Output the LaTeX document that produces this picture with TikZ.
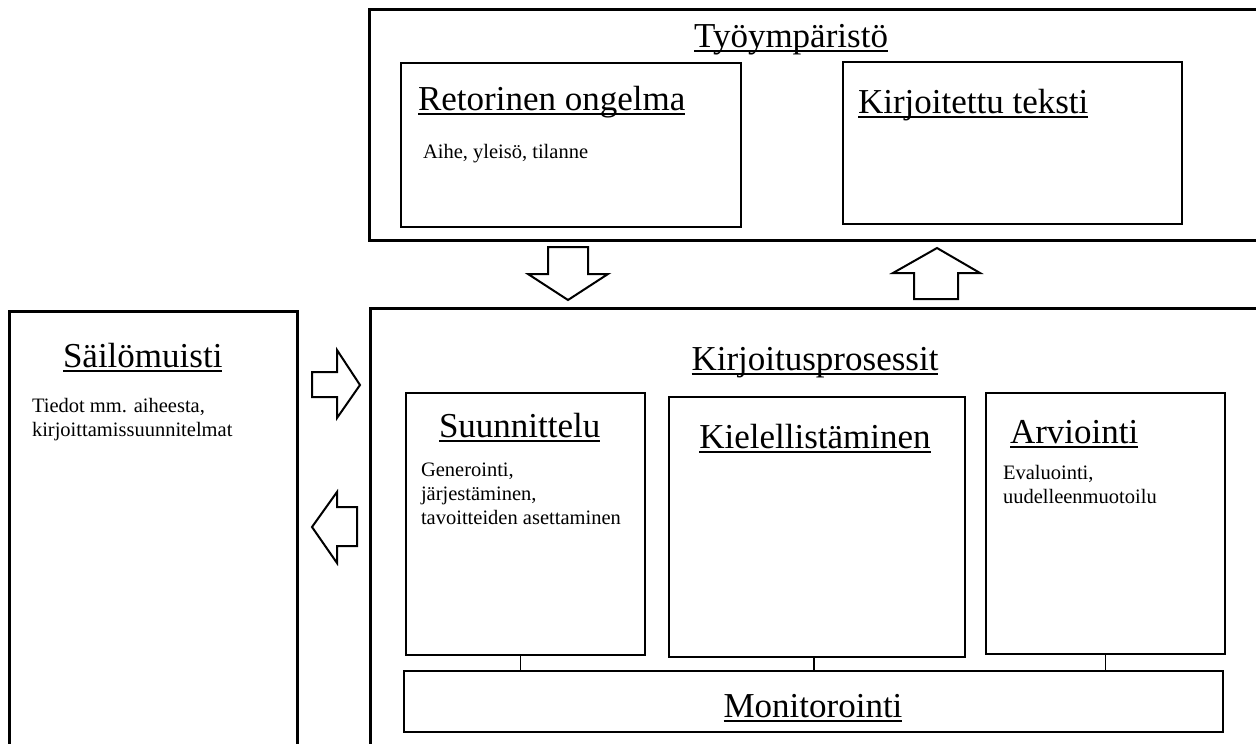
\documentclass[tikz,border=0pt]{standalone}
\usepackage{fontspec}
\setmainfont{Liberation Serif}
\newsavebox\ulbox
\newcommand\ulin[1]{\sbox\ulbox{#1}\rlap{\rule[-0.14em]{\wd\ulbox}{0.05em}}\usebox\ulbox}
\newcommand\hfont{\fontsize{35}{40}\selectfont}
\newcommand\bfont{\fontsize{20.5}{24}\selectfont}
\tikzset{
  bigbox/.style={draw, line width=3pt, inner sep=0pt, outer sep=0pt},
  smallbox/.style={draw, line width=2.6pt, inner sep=0pt, outer sep=0pt},
  hd/.style={inner sep=0pt, outer sep=0pt, font=\hfont},
  body/.style={inner sep=0pt, outer sep=0pt, font=\bfont, align=left},
  blockarrow/.style={draw, line width=2pt, line join=miter, fill=white},
  link/.style={draw, line width=1.8pt}
}
\begin{document}
\begin{tikzpicture}[x=1pt, y=-1pt]
\path[use as bounding box, fill=white] (0,0) rectangle (1256,744);
\clip (0,0) rectangle (1256,744);
% outer boxes
\node[bigbox, minimum width=896pt, minimum height=231pt] (tyo) at (817,124.5) {};
\node[bigbox, minimum width=288pt, minimum height=449pt] (sail) at (153,535.5) {};
\node[bigbox, minimum width=895pt, minimum height=452pt] (kp) at (817.5,534) {};
% top inner boxes
\node[smallbox, minimum width=340pt, minimum height=164pt] (ret) at (571,145) {};
\node[smallbox, minimum width=339pt, minimum height=162pt] (kir) at (1012.5,143) {};
% process boxes
\node[smallbox, minimum width=239pt, minimum height=262pt] (suun) at (525.5,524) {};
\node[smallbox, minimum width=296pt, minimum height=260pt] (kiel) at (817,527) {};
\node[smallbox, minimum width=239pt, minimum height=261pt] (arv) at (1105.5,523.5) {};
\node[smallbox, minimum width=819pt, minimum height=61pt] (mon) at (813.5,701.5) {};
% connectors to Monitorointi
\draw[link] (suun.south) ++(-5,0) coordinate (s1) -- (s1 |- mon.north);
\draw[link] (kiel.south) ++(-3,0) coordinate (s2) -- (s2 |- mon.north);
\draw[link] (arv.south) -- (arv.south |- mon.north);
% block arrows
\draw[blockarrow] (548,247) -- (588,247) -- (588,274) -- (608,274) -- (568,300) -- (528,274) -- (548,274) -- cycle;
\draw[blockarrow] (914,299) -- (958,299) -- (958,273) -- (980,273) -- (937,248) -- (893,273) -- (914,273) -- cycle;
\draw[blockarrow] (312,372) -- (337,372) -- (337,350) -- (360,385) -- (337,418) -- (337,397) -- (312,397) -- cycle;
\draw[blockarrow] (357,507) -- (337,507) -- (337,492) -- (312,527) -- (337,563) -- (337,546) -- (357,546) -- cycle;
% texts (multi-line nodes: base = baseline of last line)
\node[hd, anchor=base] (tyoT) at (791,47) {\ulin{Työympäristö}};
\node[hd, anchor=base west] (retT) at (418,110) {\ulin{Retorinen ongelma}};
\node[body, anchor=base west] (retB) at (423,158) {Aihe, yleisö, tilanne};
\node[hd, anchor=base west] (kirT) at (858,113) {\ulin{Kirjoitettu teksti}};
\node[hd, anchor=base west] (sailT) at (63,367) {\ulin{Säilömuisti}};
\node[body, anchor=base west] (sailB) at (32,436) {Tiedot mm. aiheesta,\\kirjoittamissuunnitelmat};
\node[hd, anchor=base] (kpT) at (815,370) {\ulin{Kirjoitusprosessit}};
\node[hd, anchor=base west] (suunT) at (439,437) {\ulin{Suunnittelu}};
\node[body, anchor=base west] (suunB) at (421,524) {Generointi,\\järjestäminen,\\tavoitteiden asettaminen};
\node[hd, anchor=base] (kielT) at (815,448) {\ulin{Kielellistäminen}};
\node[hd, anchor=base west] (arvT) at (1010,443) {\ulin{Arviointi}};
\node[body, anchor=base west] (arvB) at (1003,503) {Evaluointi,\\uudelleenmuotoilu};
\node[hd, anchor=base] (monT) at (813,717) {\ulin{Monitorointi}};
\end{tikzpicture}
\end{document}
